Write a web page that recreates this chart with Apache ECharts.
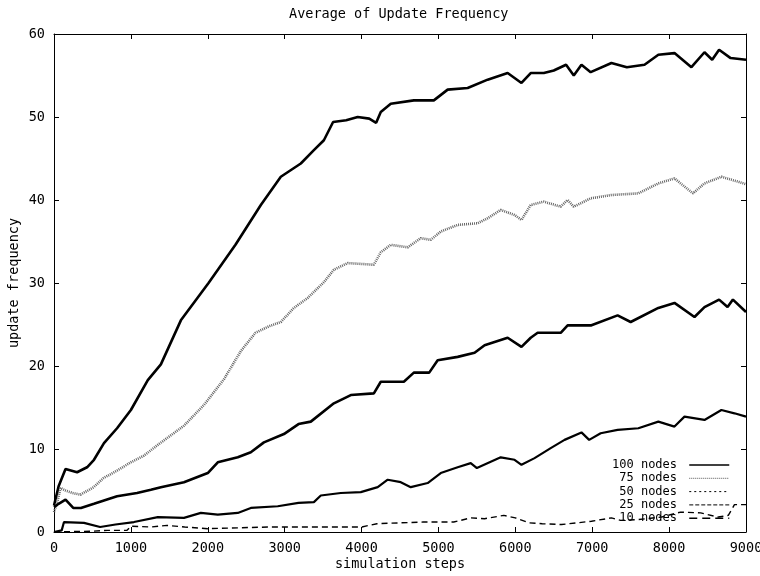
<!DOCTYPE html>
<html>
<head>
<meta charset="utf-8">
<title>Average of Update Frequency</title>
<script src="https://cdn.jsdelivr.net/npm/echarts@6/dist/echarts.min.js"></script>
<style>
  html, body { margin: 0; padding: 0; background: #fff; }
  #chart { width: 760px; height: 576px; }
</style>
</head>
<body>
<div id="chart"></div>
<script>
// values (simulation step -> update frequency)
const seriesNames = ['100 nodes', '75 nodes', '50 nodes', '25 nodes', '10 nodes']

const steps100 = [0, 60, 150, 300, 430, 520, 650, 820, 1000, 1220, 1390, 1650, 2010, 2360, 2690, 2950, 3210, 3380, 3510, 3630, 3800, 3950, 4100, 4190, 4250, 4380, 4680, 4940, 5120, 5380, 5640, 5900, 6080, 6200, 6370, 6500, 6660, 6760, 6860, 6980, 7250, 7450, 7680, 7860, 8070, 8290, 8460, 8560, 8650, 8800, 9000]
const vals100 = [3.2, 5.5, 7.6, 7.2, 7.8, 8.7, 10.7, 12.5, 14.7, 18.3, 20.2, 25.5, 30.0, 34.6, 39.4, 42.8, 44.4, 46.0, 47.2, 49.4, 49.6, 50.0, 49.8, 49.3, 50.6, 51.6, 52.0, 52.0, 53.3, 53.5, 54.5, 55.3, 54.1, 55.3, 55.3, 55.6, 56.3, 55.0, 56.3, 55.4, 56.5, 56.0, 56.3, 57.5, 57.7, 56.0, 57.8, 56.9, 58.1, 57.1, 56.9]

const steps75 = [0, 40, 85, 150, 240, 345, 515, 645, 820, 1000, 1170, 1350, 1690, 1950, 2210, 2430, 2620, 2800, 2950, 3120, 3300, 3510, 3640, 3820, 4160, 4250, 4380, 4600, 4770, 4900, 5030, 5250, 5510, 5640, 5810, 5990, 6080, 6200, 6370, 6590, 6680, 6760, 6980, 7250, 7600, 7860, 8070, 8310, 8460, 8680, 8900, 9000]
const vals75 = [2.4, 3.5, 5.3, 5.0, 4.7, 4.5, 5.4, 6.5, 7.4, 8.4, 9.2, 10.5, 12.8, 15.3, 18.4, 21.8, 24.0, 24.8, 25.3, 27.0, 28.2, 30.1, 31.6, 32.4, 32.2, 33.7, 34.6, 34.3, 35.4, 35.2, 36.2, 37.0, 37.2, 37.8, 38.8, 38.2, 37.6, 39.4, 39.8, 39.2, 40.0, 39.2, 40.2, 40.6, 40.8, 42.0, 42.6, 40.8, 42.0, 42.8, 42.2, 41.9]

const steps50 = [0, 60, 150, 250, 350, 520, 820, 1080, 1260, 1390, 1690, 2000, 2130, 2390, 2560, 2730, 2990, 3180, 3340, 3640, 3860, 4160, 4250, 4550, 4680, 4880, 4990, 5250, 5470, 5600, 5900, 6080, 6200, 6290, 6590, 6680, 6990, 7330, 7500, 7860, 8070, 8330, 8460, 8650, 8760, 8830, 9000]
const vals50 = [3.0, 3.4, 3.9, 2.9, 2.9, 3.4, 4.3, 4.7, 5.1, 5.4, 6.0, 7.1, 8.4, 9.0, 9.6, 10.8, 11.8, 13.0, 13.3, 15.5, 16.5, 16.7, 18.1, 18.1, 19.2, 19.2, 20.7, 21.1, 21.6, 22.5, 23.4, 22.3, 23.4, 24.0, 24.0, 24.9, 24.9, 26.1, 25.3, 27.0, 27.6, 25.9, 27.1, 28.0, 27.1, 28.0, 26.5]

const steps25 = [0, 100, 130, 390, 600, 800, 1040, 1350, 1690, 1910, 2130, 2390, 2560, 2910, 3180, 3380, 3470, 3730, 3990, 4210, 4340, 4510, 4640, 4860, 5030, 5250, 5420, 5500, 5810, 5990, 6080, 6250, 6460, 6640, 6860, 6960, 7110, 7330, 7600, 7860, 8070, 8200, 8460, 8680, 8850, 9000]
const vals25 = [0, 0.2, 1.2, 1.1, 0.6, 0.9, 1.2, 1.8, 1.7, 2.3, 2.1, 2.3, 2.9, 3.1, 3.5, 3.6, 4.4, 4.7, 4.8, 5.4, 6.3, 6.0, 5.4, 5.9, 7.1, 7.8, 8.3, 7.7, 9.0, 8.7, 8.1, 8.9, 10.1, 11.1, 12.0, 11.1, 11.9, 12.3, 12.5, 13.3, 12.7, 13.9, 13.5, 14.7, 14.3, 13.9]

const steps10 = [0, 500, 700, 950, 1000, 1260, 1470, 1700, 2000, 2390, 2780, 3100, 3430, 3800, 4000, 4200, 4500, 4800, 5200, 5420, 5600, 5850, 6000, 6180, 6350, 6600, 6800, 6990, 7250, 7370, 7600, 7900, 8150, 8410, 8640, 8770, 8850, 9000]
const vals10 = [0, 0.1, 0.2, 0.2, 0.7, 0.6, 0.8, 0.6, 0.4, 0.5, 0.6, 0.6, 0.6, 0.6, 0.6, 1.0, 1.1, 1.2, 1.2, 1.7, 1.6, 2.0, 1.7, 1.1, 1.0, 0.9, 1.1, 1.3, 1.7, 1.4, 1.5, 1.8, 2.4, 2.3, 1.8, 2.0, 3.3, 3.3]

function pairs(xs, ys) {
  return xs.map(function (x, i) { return [x, ys[i]] })
}

const font = 'DejaVu Sans Mono'
const fontSize = 13.5
const chart = echarts.init(document.getElementById('chart'), null, { renderer: 'canvas' })

const axisCommon = {
  axisLine: { show: true, onZero: false, lineStyle: { color: '#000', width: 1 } },
  axisTick: { show: true, inside: true, length: 5, lineStyle: { color: '#000', width: 1 } },
  splitLine: { show: false },
  minorTick: { show: false }
}

// legend icons: line only, no symbol
const noSymbol = { opacity: 0 }

chart.setOption({
  animation: false,
  backgroundColor: '#fff',
  title: {
    text: 'Average of Update Frequency',
    left: 289,
    top: 7,
    padding: 0,
    textStyle: { fontFamily: font, fontSize: fontSize, fontWeight: 'normal', color: '#000' }
  },
  legend: {
    orient: 'vertical',
    right: 30,
    top: 459,
    padding: 0,
    itemGap: 1.3,
    itemWidth: 40,
    itemHeight: 10,
    align: 'right',
    formatter: function (name) { return name.padStart(9, ' ') + ' ' },
    textStyle: { fontFamily: font, fontSize: 12, color: '#000' },
    data: [
      { name: '100 nodes', itemStyle: noSymbol, lineStyle: { color: '#000', width: 1.5, type: 'solid' } },
      { name: '75 nodes', itemStyle: noSymbol, lineStyle: { color: '#555', width: 1, type: [1, 1] } },
      { name: '50 nodes', itemStyle: noSymbol, lineStyle: { color: '#000', width: 1, type: [2, 3] } },
      { name: '25 nodes', itemStyle: noSymbol, lineStyle: { color: '#000', width: 1, type: [4, 2] } },
      { name: '10 nodes', itemStyle: noSymbol, lineStyle: { color: '#000', width: 1.5, type: [8, 5] } }
    ]
  },
  grid: { left: 54, right: 14, top: 34, bottom: 44, outerBoundsMode: 'none' },
  xAxis: [
    Object.assign({
      type: 'value',
      min: 0,
      max: 9000,
      interval: 1000,
      position: 'bottom',
      name: 'simulation steps',
      nameLocation: 'middle',
      nameGap: 25,
      nameMoveOverlap: false,
      nameTextStyle: { fontFamily: font, fontSize: fontSize, color: '#000' },
      axisLabel: {
        margin: 9,
        fontFamily: font,
        fontSize: fontSize,
        color: '#000',
        formatter: function (v) { return String(v) }
      }
    }, axisCommon),
    Object.assign({
      type: 'value',
      min: 0,
      max: 9000,
      interval: 1000,
      position: 'top',
      axisLabel: { show: false }
    }, axisCommon)
  ],
  yAxis: [
    Object.assign({
      type: 'value',
      min: 0,
      max: 60,
      interval: 10,
      position: 'left',
      name: 'update frequency',
      nameLocation: 'middle',
      nameGap: 33,
      nameMoveOverlap: false,
      nameTextStyle: { fontFamily: font, fontSize: fontSize, color: '#000' },
      axisLabel: { margin: 9, fontFamily: font, fontSize: fontSize, color: '#000' }
    }, axisCommon),
    Object.assign({
      type: 'value',
      min: 0,
      max: 60,
      interval: 10,
      position: 'right',
      axisLabel: { show: false }
    }, axisCommon)
  ],
  series: [
    {
      name: seriesNames[0],
      type: 'line',
      symbol: 'none',
      showSymbol: false,
      lineStyle: { color: '#000', width: 2.6 },
      itemStyle: { color: '#000' },
      data: pairs(steps100, vals100)
    },
    {
      name: seriesNames[1],
      type: 'line',
      symbol: 'none',
      showSymbol: false,
      lineStyle: { color: '#666', width: 2.6, type: [1, 1] },
      itemStyle: { color: '#666' },
      data: pairs(steps75, vals75)
    },
    {
      name: seriesNames[2],
      type: 'line',
      symbol: 'none',
      showSymbol: false,
      lineStyle: { color: '#000', width: 2.6 },
      itemStyle: { color: '#000' },
      data: pairs(steps50, vals50)
    },
    {
      name: seriesNames[3],
      type: 'line',
      symbol: 'none',
      showSymbol: false,
      lineStyle: { color: '#000', width: 2.2 },
      itemStyle: { color: '#000' },
      data: pairs(steps25, vals25)
    },
    {
      name: seriesNames[4],
      type: 'line',
      symbol: 'none',
      showSymbol: false,
      lineStyle: { color: '#000', width: 1.4, type: [6, 4] },
      itemStyle: { color: '#000' },
      data: pairs(steps10, vals10)
    }
  ]
})
</script>
</body>
</html>
